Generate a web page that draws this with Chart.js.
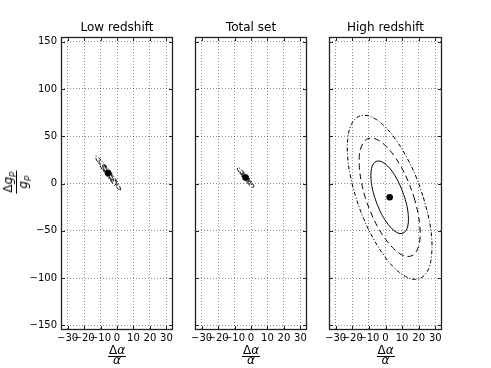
<!DOCTYPE html>
<html>
<head>
<meta charset="utf-8">
<script src="https://cdn.jsdelivr.net/npm/chart.js@4/dist/chart.umd.min.js"></script>
<style>
  body { margin: 0; background: #fff; }
  #wrap { position: relative; width: 491px; height: 368px; overflow: hidden; font-family: "DejaVu Sans", sans-serif; }
  canvas { position: absolute; top: 0; }
  .frac { position: absolute; display: inline-flex; flex-direction: column; align-items: center;
          font-size: 12px; line-height: 1; color: #000; white-space: nowrap; }
  .frac .num { padding: 0 1px 0; border-bottom: 1px solid #000; }
  .frac .den { margin-top: -3px; }
  .frac i { font-style: italic; }
  .frac sub { font-size: 8.5px; vertical-align: -2px; font-style: italic; }
  .frac.ylab .den { margin-top: 0; }
</style>
</head>
<body>
<div id="wrap">
  <canvas id="p1" width="184" height="368" style="left:0px"></canvas>
  <canvas id="p2" width="134" height="368" style="left:184px"></canvas>
  <canvas id="p3" width="173" height="368" style="left:318px"></canvas>
</div>
<script>
// panel titles and axes
const titles = ['Low redshift', 'Total set', 'High redshift'];
const xTicks = [-30, -20, -10, 0, 10, 20, 30];
const yTicks = [-150, -100, -50, 0, 50, 100, 150];
const xLimits = [-34, 34];
const yLimits = [-155, 155];

// low redshift contours (dalpha/alpha, dgp/gp)
const lowSolid = [[-2.0,3.0],[-2.2,4.5],[-3.2,7.7],[-4.8,11.8],[-6.6,15.6],[-8.0,18.3],[-8.8,19.0],[-8.6,17.5],[-7.6,14.3],[-6.0,10.2],[-4.2,6.4],[-2.8,3.7],[-2.0,3.0]];
const lowDashed = [[0.1,-2.0],[-0.2,0.4],[-1.9,5.6],[-4.5,12.2],[-7.3,18.6],[-9.7,22.9],[-10.9,24.0],[-10.6,21.6],[-9.0,16.4],[-6.4,9.8],[-3.5,3.4],[-1.1,-0.9],[0.1,-2.0]];
const lowDashDot = [[2.2,-7.0],[1.8,-3.7],[-0.5,3.5],[-4.1,12.7],[-8.1,21.5],[-11.3,27.4],[-13.0,29.0],[-12.6,25.7],[-10.3,18.5],[-6.7,9.3],[-2.7,0.5],[0.5,-5.4],[2.2,-7.0]];
const lowBest = [-5.4, 11.0];

// total set contours
const totalSolid = [[-1.1,1.7],[-1.2,2.6],[-1.8,4.6],[-2.8,7.0],[-4.0,9.2],[-5.0,10.7],[-5.5,11.0],[-5.4,10.0],[-4.8,8.1],[-3.8,5.6],[-2.6,3.4],[-1.6,1.9],[-1.1,1.7]];
const totalDashed = [[0.2,-1.3],[0.1,0.3],[-0.9,3.5],[-2.6,7.4],[-4.4,11.0],[-6.0,13.4],[-6.8,13.9],[-6.7,12.3],[-5.7,9.2],[-4.1,5.2],[-2.2,1.6],[-0.6,-0.8],[0.2,-1.3]];
const totalDashDot = [[1.6,-4.2],[1.5,-2.0],[0.1,2.3],[-2.3,7.8],[-4.9,12.9],[-7.0,16.2],[-8.2,16.8],[-8.1,14.6],[-6.7,10.3],[-4.3,4.8],[-1.7,-0.3],[0.4,-3.6],[1.6,-4.2]];
const totalBest = [-3.3, 6.3];

// high redshift contours
const highSolid = [[11.5,-14.6],[13.0,-24.6],[13.7,-33.8],[13.7,-41.8],[12.9,-47.9],[11.4,-51.7],[9.3,-53.0],[6.7,-51.7],[3.9,-47.9],[1.0,-41.8],[-1.9,-33.8],[-4.4,-24.6],[-6.5,-14.6],[-8.0,-4.7],[-8.7,4.6],[-8.7,12.6],[-7.9,18.7],[-6.4,22.5],[-4.3,23.8],[-1.7,22.5],[1.1,18.7],[4.1,12.6],[6.9,4.6],[9.4,-4.7],[11.5,-14.6]];
const highDashed = [[17.2,-14.6],[19.5,-30.8],[20.7,-45.9],[20.7,-58.9],[19.4,-68.8],[17.0,-75.1],[13.6,-77.2],[9.4,-75.1],[4.8,-68.8],[0.0,-58.9],[-4.7,-45.9],[-8.8,-30.8],[-12.2,-14.6],[-14.5,1.6],[-15.7,16.7],[-15.7,29.7],[-14.4,39.6],[-12.0,45.9],[-8.6,48.0],[-4.4,45.9],[0.2,39.6],[5.0,29.7],[9.7,16.7],[13.8,1.6],[17.2,-14.6]];
const highDashDot = [[22.8,-14.6],[26.1,-37.1],[27.8,-58.0],[27.7,-76.0],[26.0,-89.8],[22.6,-98.4],[17.9,-101.4],[12.1,-98.4],[5.6,-89.8],[-1.0,-76.0],[-7.4,-58.0],[-13.2,-37.1],[-17.8,-14.6],[-21.1,7.9],[-22.8,28.8],[-22.7,46.8],[-21.0,60.6],[-17.6,69.2],[-12.9,72.2],[-7.1,69.2],[-0.6,60.6],[6.0,46.8],[12.4,28.8],[18.2,7.9],[22.8,-14.6]];
const highBest = [2.5, -14.6];

Chart.defaults.font.family = '"DejaVu Sans", sans-serif';
Chart.defaults.color = '#000';

const fmt = v => v < 0 ? '\u2212' + Math.abs(v) : String(v);
const toPts = arr => arr.map(p => ({ x: p[0], y: p[1] }));

// box round the plot with inward tick marks on all four sides
const frame = {
  id: 'frame',
  afterDraw(chart) {
    const { ctx, chartArea: a, scales: { x, y } } = chart;
    ctx.save();
    ctx.strokeStyle = '#222';
    ctx.lineWidth = 1;
    ctx.beginPath();
    xTicks.forEach(v => {
      const px = Math.round(x.getPixelForValue(v)) + 0.5;
      ctx.moveTo(px, a.top); ctx.lineTo(px, a.top + 4);
      ctx.moveTo(px, a.bottom); ctx.lineTo(px, a.bottom - 4);
    });
    yTicks.forEach(v => {
      const py = Math.round(y.getPixelForValue(v)) + 0.5;
      ctx.moveTo(a.left, py); ctx.lineTo(a.left + 4, py);
      ctx.moveTo(a.right, py); ctx.lineTo(a.right - 4, py);
    });
    ctx.stroke();
    ctx.lineWidth = 1.3;
    ctx.strokeRect(a.left + 0.5, a.top + 0.5, a.right - a.left - 1, a.bottom - a.top - 1);
    ctx.restore();
  }
};

function contour(points, dash) {
  return {
    data: toPts(points),
    showLine: true,
    borderColor: '#000',
    borderWidth: 1,
    borderDash: dash,
    tension: 0.4,
    pointRadius: 0,
    pointHoverRadius: 0,
    fill: false
  };
}

function makePanel(id, title, solid, dashed, dashDot, best, showY, pad) {
  return new Chart(document.getElementById(id), {
    type: 'scatter',
    data: {
      datasets: [
        contour(dashDot, [4, 2, 1, 2]),
        contour(dashed, [6, 4]),
        contour(solid, []),
        {
          data: toPts([best]),
          showLine: false,
          pointRadius: 3.3,
          pointHoverRadius: 3.3,
          backgroundColor: '#000',
          pointBackgroundColor: '#000',
          pointBorderWidth: 0
        }
      ]
    },
    options: {
      responsive: false,
      animation: false,
      events: [],
      layout: { padding: pad },
      plugins: {
        legend: { display: false },
        tooltip: { enabled: false },
        title: {
          display: true,
          text: title,
          fullSize: false,
          font: { size: 12, weight: 'normal' },
          color: '#000',
          padding: { top: 21, bottom: 1.6 }
        }
      },
      scales: {
        x: {
          type: 'linear',
          min: xLimits[0],
          max: xLimits[1],
          afterBuildTicks: s => { s.ticks = xTicks.map(v => ({ value: v })); },
          afterFit: s => { s.height = 38; },
          ticks: { font: { size: 10 }, color: '#000', padding: 2, autoSkip: false, maxRotation: 0, minRotation: 0, callback: fmt },
          grid: { color: 'rgba(0,0,0,0.55)', lineWidth: 0.8, drawTicks: false },
          border: { display: false, dash: [1, 2] }
        },
        y: {
          type: 'linear',
          min: yLimits[0],
          max: yLimits[1],
          afterBuildTicks: s => { s.ticks = yTicks.map(v => ({ value: v })); },
          afterFit: s => { s.width = showY ? 61 : 0; },
          ticks: { display: showY, font: { size: 10 }, color: '#000', padding: 4, callback: fmt },
          grid: { color: 'rgba(0,0,0,0.55)', lineWidth: 0.8, drawTicks: false },
          border: { display: false, dash: [1, 2] }
        }
      }
    },
    plugins: [frame]
  });
}

const charts = [
  makePanel('p1', titles[0], lowSolid, lowDashed, lowDashDot, lowBest, true, { left: 0, right: 11, top: 0, bottom: 0 }),
  makePanel('p2', titles[1], totalSolid, totalDashed, totalDashDot, totalBest, false, { left: 11, right: 11, top: 0, bottom: 0 }),
  makePanel('p3', titles[2], highSolid, highDashed, highDashDot, highBest, false, { left: 11, right: 49, top: 0, bottom: 0 })
];

// axis labels as stacked fractions
const wrap = document.getElementById('wrap');
charts.forEach(ch => {
  const a = ch.chartArea;
  const off = parseFloat(ch.canvas.style.left);
  const d = document.createElement('div');
  d.className = 'frac';
  d.innerHTML = '<span class="num">\u0394<i>\u03b1</i></span><span class="den"><i>\u03b1</i></span>';
  d.style.left = (off + (a.left + a.right) / 2) + 'px';
  d.style.top = '344px';
  d.style.transform = 'translateX(-50%)';
  wrap.appendChild(d);
});
const yl = document.createElement('div');
yl.className = 'frac ylab';
yl.innerHTML = '<span class="num">\u0394<i>g</i><sub>p</sub></span><span class="den"><i>g</i><sub>p</sub></span>';
yl.style.left = '16px';
yl.style.top = '182px';
yl.style.transform = 'translate(-50%, -50%) rotate(-90deg)';
wrap.appendChild(yl);
</script>
</body>
</html>
